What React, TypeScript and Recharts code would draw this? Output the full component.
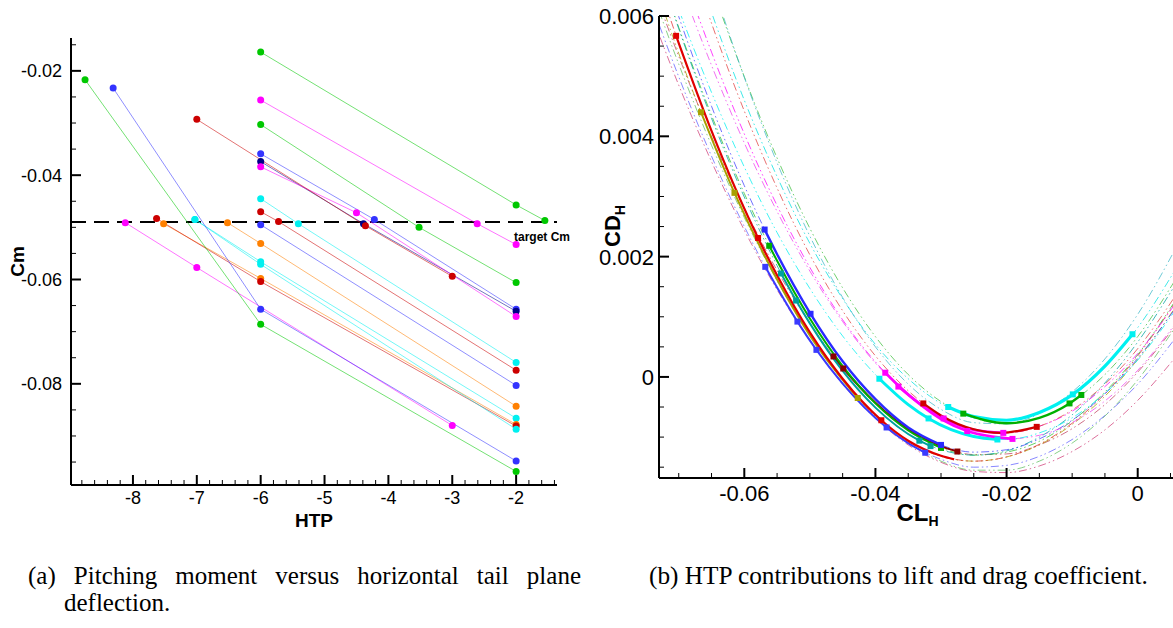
import React from "react";
import { LineChart, Line, XAxis, YAxis, ReferenceLine } from "recharts";

// ---------- (a) Cm vs HTP ----------
const HTP_G1 = [[-6, -0.0164], [-2, -0.0457], [-1.55, -0.0487]];
const HTP_M1 = [[-6, -0.0256], [-2.61, -0.0493], [-2, -0.0533]];
const HTP_G2 = [[-6, -0.0303], [-3.52, -0.05], [-2, -0.0606]];
const HTP_B1 = [[-6, -0.0359], [-4.22, -0.0485], [-2, -0.0657]];
const HTP_K1 = [[-6, -0.0374], [-4.39, -0.0493], [-2, -0.0661]];
const HTP_M2 = [[-6, -0.0384], [-4.5, -0.0472], [-2, -0.0671]];
const HTP_R1 = [[-7, -0.0293], [-4.36, -0.0497], [-3, -0.0594]];
const HTP_C1 = [[-6, -0.0445], [-5.41, -0.0493], [-2, -0.0759]];
const HTP_R2 = [[-6, -0.047], [-5.72, -0.0489], [-2, -0.0774]];
const HTP_B2 = [[-6, -0.0495], [-2, -0.0803]];
const HTP_O1 = [[-6.52, -0.0491], [-6, -0.0531], [-2, -0.0843]];
const HTP_C2 = [[-7.03, -0.0485], [-6, -0.0566], [-2, -0.0866]];
const HTP_O2 = [[-7.52, -0.0493], [-6, -0.0598], [-2, -0.0878]];
const HTP_R3 = [[-7.63, -0.0483], [-6, -0.0604], [-2, -0.0881]];
const HTP_C3 = [[-7.03, -0.0485], [-6, -0.0571], [-2, -0.0887]];
const HTP_M3 = [[-8.12, -0.0491], [-7, -0.0577], [-3, -0.088]];
const HTP_B3 = [[-8.31, -0.0233], [-6, -0.0657], [-2, -0.0948]];
const HTP_G3 = [[-8.75, -0.0217], [-6, -0.0686], [-2, -0.0968]];

const TARGET_CM = -0.049;
const CM_MAJOR = [-0.08, -0.06, -0.04, -0.02];
const HTP_MAJOR = [-8, -7, -6, -5, -4, -3, -2];

// ---------- (b) CD_H vs CL_H ----------
const CL_GRID = [-0.075, -0.07, -0.065, -0.06, -0.055, -0.05, -0.045, -0.04, -0.035, -0.03, -0.025, -0.02, -0.015, -0.01, -0.005, 0, 0.006];

// extrapolated (dash-dot) polars, CD at CL_GRID
const FIT_A1 = [0.00718, 0.00555, 0.00409, 0.0028, 0.00169, 0.00074, -0.00003, -0.00063, -0.00106, -0.00131, -0.0014, -0.00133, -0.00112, -0.00077, -0.00028, 0.00035, 0.00129];
const FIT_A2 = [0.00765, 0.00599, 0.0045, 0.00318, 0.00204, 0.00106, 0.00026, -0.00037, -0.00084, -0.00113, -0.00125, -0.00121, -0.00103, -0.00072, -0.00028, 0.00031, 0.00118];
const FIT_A3 = [0.00744, 0.00581, 0.00435, 0.00305, 0.00193, 0.00097, 0.00018, -0.00044, -0.00089, -0.00118, -0.0013, -0.00125, -0.00107, -0.00073, -0.00025, 0.00037, 0.00131];
const FIT_A4 = [0.00745, 0.00579, 0.0043, 0.00299, 0.00185, 0.00089, 0.0001, -0.00051, -0.00095, -0.00121, -0.0013, -0.00123, -0.001, -0.00063, -0.0001, 0.00058, 0.00158];
const FIT_A5 = [0.00646, 0.00499, 0.00367, 0.0025, 0.00148, 0.00061, -0.00011, -0.00068, -0.0011, -0.00137, -0.0015, -0.00147, -0.00132, -0.00104, -0.00064, -0.00012, 0.00068];
const FIT_A6 = [0.00681, 0.00533, 0.00399, 0.00281, 0.00177, 0.00089, 0.00015, -0.00043, -0.00087, -0.00115, -0.00129, -0.00128, -0.00113, -0.00086, -0.00046, 0.00008, 0.00089];
const FIT_A7 = [0.00698, 0.00538, 0.00396, 0.0027, 0.00162, 0.00069, -0.00006, -0.00065, -0.00107, -0.00132, -0.0014, -0.00133, -0.00113, -0.00079, -0.00032, 0.00029, 0.0012];
const FIT_A8 = [0.00627, 0.00485, 0.00358, 0.00244, 0.00145, 0.0006, -0.00012, -0.00069, -0.00113, -0.00142, -0.00157, -0.00159, -0.00148, -0.00124, -0.00088, -0.00039, 0.00036];
const FIT_A9 = [0.0067, 0.0052, 0.00385, 0.00265, 0.0016, 0.0007, -0.00005, -0.00065, -0.0011, -0.0014, -0.00155, -0.00155, -0.0014, -0.0011, -0.00065, -0.00005, 0.00087];
const FIT_B1 = [0.0086, 0.00692, 0.0054, 0.00404, 0.00285, 0.00182, 0.00095, 0.00025, -0.00029, -0.00067, -0.00088, -0.00093, -0.00082, -0.00057, -0.00016, 0.00039, 0.00126];
const FIT_B2 = [0.00821, 0.00662, 0.00518, 0.00389, 0.00275, 0.00176, 0.00092, 0.00023, -0.00031, -0.0007, -0.00094, -0.00103, -0.00097, -0.00076, -0.0004, 0.00011, 0.00092];
const FIT_B3 = [0.00765, 0.00611, 0.00473, 0.00349, 0.0024, 0.00147, 0.00068, 0.00004, -0.00046, -0.0008, -0.00099, -0.00104, -0.00093, -0.00068, -0.00027, 0.00028, 0.00115];
const FIT_B4 = [0.00949, 0.00768, 0.00606, 0.0046, 0.00333, 0.00222, 0.0013, 0.00054, -0.00003, -0.00044, -0.00066, -0.00072, -0.00059, -0.0003, 0.00018, 0.00082, 0.00183];
const FIT_B5 = [0.01012, 0.00823, 0.00652, 0.00499, 0.00364, 0.00247, 0.00148, 0.00067, 0.00004, -0.00041, -0.00068, -0.00077, -0.00068, -0.00041, 0.00004, 0.00067, 0.00166];
const FIT_B6 = [0.00931, 0.00751, 0.00588, 0.00442, 0.00314, 0.00203, 0.0011, 0.00035, -0.00023, -0.00064, -0.00087, -0.00093, -0.00082, -0.00055, -0.00012, 0.00047, 0.00139];
const FIT_B7 = [0.01044, 0.00842, 0.0066, 0.00498, 0.00356, 0.00234, 0.00132, 0.0005, -0.00012, -0.00054, -0.00076, -0.00078, -0.00061, -0.00025, 0.0003, 0.00104, 0.00218];

// computed ranges (solid), [CL, CD, marker]
const RUN_A1 = [[-0.0704, 0.00567, 1], [-0.065, 0.00409], [-0.0579, 0.00231, 1], [-0.055, 0.00169], [-0.05, 0.00074], [-0.045, -0.00003], [-0.0391, -0.00072, 1], [-0.035, -0.00106], [-0.03, -0.00131], [-0.028, -0.00137]];
const RUN_A2 = [[-0.0569, 0.00245, 1], [-0.055, 0.00204], [-0.0499, 0.00105, 1], [-0.045, 0.00026], [-0.04, -0.00037], [-0.035, -0.00084], [-0.03, -0.00113, 1]];
const RUN_A3 = [[-0.0562, 0.00218, 1], [-0.055, 0.00193], [-0.05, 0.00097], [-0.045, 0.00018], [-0.04, -0.00044], [-0.035, -0.00089], [-0.03, -0.00118, 1]];
const RUN_A4 = [[-0.0544, 0.00172, 1], [-0.0521, 0.00127, 1], [-0.05, 0.00089], [-0.045, 0.0001], [-0.04, -0.00051], [-0.0333, -0.00106, 1], [-0.0316, -0.00115, 1]];
const RUN_A5 = [[-0.0568, 0.00183, 1], [-0.0519, 0.00092, 1], [-0.049, 0.00045, 1], [-0.045, -0.00011], [-0.0383, -0.00084, 1], [-0.035, -0.0011], [-0.0324, -0.00126, 1]];
const RUN_A6 = [[-0.0464, 0.00034, 1], [-0.0449, 0.00014, 1], [-0.04, -0.00043], [-0.035, -0.00087], [-0.03, -0.00115], [-0.0275, -0.00124, 1]];
const RUN_A7 = [[-0.0666, 0.0044, 1], [-0.0615, 0.00306, 1], [-0.055, 0.00162], [-0.05, 0.00069], [-0.0427, -0.00035, 1]];
const RUN_B1 = [[-0.0385, 0.00007, 1], [-0.035, -0.00029], [-0.0296, -0.00069, 1], [-0.025, -0.00088], [-0.0205, -0.00093, 1]];
const RUN_B2 = [[-0.0365, -0.00016, 1], [-0.03, -0.0007], [-0.026, -0.0009, 1], [-0.0191, -0.00103, 1]];
const RUN_B3 = [[-0.0394, -0.00003, 1], [-0.035, -0.00046], [-0.0319, -0.00069, 1], [-0.025, -0.00099], [-0.0214, -0.00104, 1]];
const RUN_B4 = [[-0.0289, -0.0005, 1], [-0.025, -0.00066], [-0.02, -0.00072], [-0.015, -0.00059], [-0.0099, -0.00029, 1], [-0.005, 0.00018], [-0.0008, 0.00071, 1]];
const RUN_B5 = [[-0.0266, -0.00061, 1], [-0.02, -0.00077], [-0.015, -0.00068], [-0.0104, -0.00044, 1], [-0.0086, -0.0003, 1]];
const RUN_B6 = [[-0.0327, -0.00044, 1], [-0.03, -0.00064], [-0.025, -0.00087], [-0.0209, -0.00093], [-0.0154, -0.00083, 1]];

const CD_MAJOR = [0, 0.002, 0.004, 0.006];
const CL_MAJOR = [-0.06, -0.04, -0.02, 0];

// ---------- styling ----------
const C = {
  green: "#00c800",
  blue: "#3333ff",
  navy: "#000088",
  magenta: "#ff00ff",
  red: "#cc0000",
  cyan: "#00f0f0",
  orange: "#ff8000",
  teal: "#00a0a0",
  darkred: "#8b0000",
  olive: "#a8a000",
  pink: "#d0407a",
};

const LEFT_SERIES: [number[][], string][] = [
  [HTP_G1, C.green], [HTP_M1, C.magenta], [HTP_G2, C.green], [HTP_B1, C.blue],
  [HTP_K1, C.navy], [HTP_M2, C.magenta], [HTP_R1, C.red], [HTP_C1, C.cyan],
  [HTP_R2, C.red], [HTP_B2, C.blue], [HTP_O1, C.orange], [HTP_C2, C.cyan],
  [HTP_O2, C.orange], [HTP_R3, C.red], [HTP_C3, C.cyan], [HTP_M3, C.magenta],
  [HTP_B3, C.blue], [HTP_G3, C.green],
];

const FITS: [number[], string][] = [
  [FIT_A8, C.pink], [FIT_A9, "#60c060"], [FIT_A5, "#6060ff"], [FIT_A6, "#c04060"],
  [FIT_A7, C.olive], [FIT_A1, "#e03030"], [FIT_A2, "#4040ff"], [FIT_A3, "#30c030"],
  [FIT_A4, C.teal], [FIT_B1, C.magenta], [FIT_B2, "#ee40ee"], [FIT_B3, C.cyan],
  [FIT_B6, "#e04040"], [FIT_B4, "#00e0e0"], [FIT_B5, "#40c040"], [FIT_B7, "#40b8c8"],
];

const RUNS: [number[][], string, number][] = [
  [RUN_A5, "#3a3aff", 2], [RUN_A6, C.darkred, 2], [RUN_A7, C.olive, 2], [RUN_A4, C.teal, 2],
  [RUN_A3, "#00b000", 2], [RUN_A2, "#2a2aff", 2.4], [RUN_A1, "#e00000", 2.2],
  [RUN_B3, C.cyan, 3], [RUN_B2, C.magenta, 2.6], [RUN_B1, C.magenta, 2.6],
  [RUN_B6, "#d00000", 2.2], [RUN_B4, C.cyan, 3.2], [RUN_B5, "#00b000", 2.4],
];

const SANS = "'Liberation Sans', Arial, Helvetica, sans-serif";
const SERIF = "'Liberation Serif', 'Times New Roman', serif";

function steps(a: number, b: number, s: number) {
  const out: number[] = [];
  for (let v = a; v <= b + s / 2; v += s) out.push(Math.round(v * 1e6) / 1e6);
  return out;
}

function makeTick(side: "left" | "bottom", majors: number[], fmt: (v: number) => string, margin: number, size: number) {
  return function Tick(props: any) {
    const { x, y, payload } = props;
    const v = payload.value;
    const major = majors.some((m) => Math.abs(m - v) < 1e-9);
    const len = major ? 10 : 5;
    if (side === "left") {
      const ax = x + margin;
      return (
        <g>
          <line x1={ax} y1={y} x2={ax + len} y2={y} stroke="#000" strokeWidth={major ? 2 : 1} />
          {major && (
            <text x={x} y={y} dy="0.36em" textAnchor="end" fontFamily={SANS} fontSize={size} fill="#000">
              {fmt(v)}
            </text>
          )}
        </g>
      );
    }
    const ay = y - margin;
    return (
      <g>
        <line x1={x} y1={ay} x2={x} y2={ay - len} stroke="#000" strokeWidth={major ? 2 : 1} />
        {major && (
          <text x={x} y={ay + size + 1} textAnchor="middle" fontFamily={SANS} fontSize={size} fill="#000">
            {fmt(v)}
          </text>
        )}
      </g>
    );
  };
}

const cmTick = makeTick("left", CM_MAJOR, (v) => v.toFixed(2), 9, 18);
const htpTick = makeTick("bottom", HTP_MAJOR, (v) => String(v), 4, 18);
const cdTick = makeTick("left", CD_MAJOR, (v) => (v === 0 ? "0" : v.toFixed(3)), 5, 22);
const clTick = makeTick("bottom", CL_MAJOR, (v) => (v === 0 ? "0" : v.toFixed(2)), 4, 22);

function squareDot(color: string) {
  return (p: any) => {
    const key = `d${p.index}`;
    if (!p.payload || !p.payload.m || p.cx == null) return <g key={key} />;
    return <rect key={key} x={p.cx - 3} y={p.cy - 3} width={6} height={6} fill={color} />;
  };
}

function PanelA() {
  return (
    <LineChart width={600} height={540} margin={{ top: 38, right: 43, bottom: 0, left: 0 }}>
      <XAxis
        type="number"
        dataKey="x"
        domain={[-8.97, -1.36]}
        allowDataOverflow
        ticks={steps(-8.8, -1.4, 0.2)}
        interval={0}
        tick={htpTick}
        tickLine={false}
        tickSize={0}
        tickMargin={4}
        height={55}
        axisLine={{ stroke: "#000", strokeWidth: 2 }}
        label={{
          content: (p: any) => (
            <text x={p.viewBox.x + p.viewBox.width / 2} y={p.viewBox.y + 42} textAnchor="middle" fontFamily={SANS} fontWeight="bold" fontSize={19}>
              HTP
            </text>
          ),
        }}
      />
      <YAxis
        type="number"
        domain={[-0.0994, -0.0137]}
        allowDataOverflow
        ticks={steps(-0.095, -0.015, 0.005)}
        interval={0}
        tick={cmTick}
        tickLine={false}
        tickSize={0}
        tickMargin={9}
        width={71}
        axisLine={{ stroke: "#000", strokeWidth: 2 }}
        label={{
          content: (p: any) => (
            <text transform={`translate(${p.viewBox.x + 24},${p.viewBox.y + p.viewBox.height / 2}) rotate(-90)`} textAnchor="middle" fontFamily={SANS} fontWeight="bold" fontSize={19}>
              Cm
            </text>
          ),
        }}
      />
      <ReferenceLine
        y={TARGET_CM}
        stroke="#000"
        strokeWidth={2}
        strokeDasharray="15 8"
        label={{
          content: (p: any) => (
            <text x={p.viewBox.x + p.viewBox.width - 43} y={p.viewBox.y + 19} fontFamily={SANS} fontWeight="bold" fontSize={12}>
              target Cm
            </text>
          ),
        }}
      />
      {LEFT_SERIES.map(([pts, color], i) => (
        <Line
          key={i}
          data={pts.map(([x, y]) => ({ x, y }))}
          dataKey="y"
          type="linear"
          stroke={color}
          strokeOpacity={0.55}
          strokeWidth={1}
          dot={{ r: 3.5, fill: color, stroke: "none", strokeOpacity: 1 }}
          isAnimationActive={false}
        />
      ))}
    </LineChart>
  );
}

function PanelB() {
  return (
    <LineChart width={620} height={530} margin={{ top: 16, right: 4, bottom: 0, left: 0 }}>
      <XAxis
        type="number"
        dataKey="x"
        domain={[-0.07301, 0.00584]}
        allowDataOverflow
        ticks={steps(-0.07, 0.005, 0.005)}
        interval={0}
        tick={clTick}
        tickLine={false}
        tickSize={0}
        tickMargin={4}
        height={52}
        axisLine={{ stroke: "#000", strokeWidth: 2 }}
        label={{
          content: (p: any) => (
            <text x={p.viewBox.x + p.viewBox.width / 2} y={p.viewBox.y + 43} textAnchor="middle" fontFamily={SANS} fontWeight="bold" fontSize={24}>
              CL<tspan fontSize={14} dy={5}>H</tspan>
            </text>
          ),
        }}
      />
      <YAxis
        type="number"
        domain={[-0.00168, 0.006]}
        allowDataOverflow
        ticks={steps(-0.0015, 0.006, 0.0005)}
        interval={0}
        tick={cdTick}
        tickLine={false}
        tickSize={0}
        tickMargin={5}
        width={99}
        axisLine={{ stroke: "#000", strokeWidth: 2 }}
        label={{
          content: (p: any) => (
            <text transform={`translate(${p.viewBox.x + 60},${p.viewBox.y + p.viewBox.height / 2 - 21}) rotate(-90)`} textAnchor="middle" fontFamily={SANS} fontWeight="bold" fontSize={22}>
              CD<tspan fontSize={14} dy={5}>H</tspan>
            </text>
          ),
        }}
      />
      {FITS.map(([cd, color], i) => (
        <Line
          key={`f${i}`}
          data={CL_GRID.map((x, j) => ({ x, y: cd[j] }))}
          dataKey="y"
          type="monotone"
          stroke={color}
          strokeOpacity={0.75}
          strokeWidth={1}
          strokeDasharray="8 3 1.5 3 1.5 3"
          dot={false}
          isAnimationActive={false}
        />
      ))}
      {RUNS.map(([pts, color, w], i) => (
        <Line
          key={`r${i}`}
          data={pts.map(([x, y, m]) => ({ x, y, m: !!m }))}
          dataKey="y"
          type="monotone"
          stroke={color}
          strokeWidth={w}
          dot={squareDot(color)}
          isAnimationActive={false}
        />
      ))}
    </LineChart>
  );
}

export default function App() {
  return (
    <div style={{ position: "relative", width: 1173, height: 628, overflow: "hidden", background: "#fff" }}>
      <style>{`body{margin:0;overflow:hidden}`}</style>
      <div style={{ position: "absolute", left: 0, top: 0 }}>
        <PanelA />
      </div>
      <div style={{ position: "absolute", left: 560, top: 0 }}>
        <PanelB />
      </div>
      <div style={{ position: "absolute", left: 28, top: 562, width: 553, fontFamily: SERIF, fontSize: 25, lineHeight: "27px", textAlign: "justify", textAlignLast: "justify", whiteSpace: "nowrap" as any }}>
        (a) Pitching moment versus horizontal tail plane
      </div>
      <div style={{ position: "absolute", left: 64, top: 589, fontFamily: SERIF, fontSize: 25, lineHeight: "27px" }}>
        deflection.
      </div>
      <div style={{ position: "absolute", left: 649, top: 562, fontFamily: SERIF, fontSize: 25.3, lineHeight: "27px" }}>
        (b) HTP contributions to lift and drag coefficient.
      </div>
    </div>
  );
}
